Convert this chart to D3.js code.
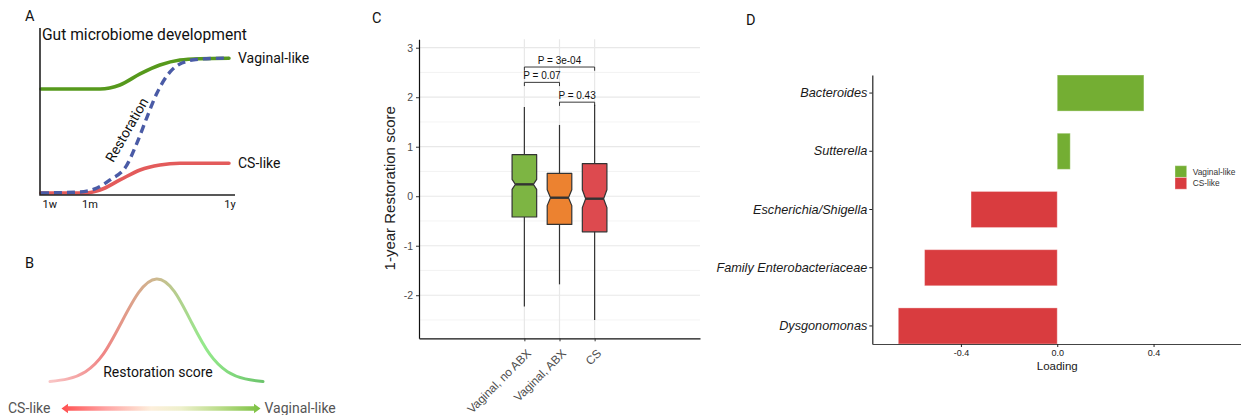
<!DOCTYPE html>
<html>
<head>
<meta charset="utf-8">
<script src="https://cdn.jsdelivr.net/npm/d3@7"></script>
<style>
  body { margin: 0; background: #fff; }
  svg { display: block; }
</style>
</head>
<body>
<svg id="fig" width="1241" height="415"></svg>
<script>
// ---------------- Panel A: schematic trajectories (time %, maturity %) ----------------
const timeTickLabels = ["1w", "1m", "1y"];
const timeTickValues = [5, 25.6, 97.4];
const vaginalTrajectory = [[0.5, 63.5], [30.8, 63.5], [41, 65.9], [51.3, 72.5], [61.5, 77.8], [71.8, 80.8], [82.1, 81.6], [96.9, 81.9]];
const csTrajectory = [[0.5, 1.2], [23.1, 1.2], [30.8, 3.0], [41, 9.0], [51.3, 15.0], [61.5, 18.0], [71.8, 19.0], [96.9, 19.0]];
const restorationTrajectory = [[0.5, 1.2], [20.5, 1.8], [29.2, 4.2], [35.9, 9.0], [44.6, 18.0], [49.7, 31.1], [54.9, 46.7], [60.0, 61.1], [66.7, 73.7], [72.8, 79.0], [82.1, 81.4], [96.9, 82.0]];

// ---------------- Panel B: restoration score distribution ----------------
const scoreGrid    = [-3, -2.5, -2, -1.5, -1, -0.5, 0, 0.5, 1, 1.5, 2, 2.5, 3];
const scoreDensity = [0.005, 0.03, 0.1, 0.27, 0.57, 0.87, 1, 0.88, 0.57, 0.27, 0.1, 0.03, 0.005];

// ---------------- Panel C: 1-year restoration score by delivery group ----------------
const groups       = ["Vaginal, no ABX", "Vaginal, ABX", "CS"];
const whiskerLow   = [-2.23, -1.78, -2.5];
const quartile1    = [-0.42, -0.57, -0.72];
const medians      = [0.24, -0.03, -0.05];
const quartile3    = [0.84, 0.46, 0.66];
const whiskerHigh  = [1.8, 1.44, 1.85];
const notchLow     = [0.14, -0.19, -0.23];
const notchHigh    = [0.34, 0.13, 0.13];
const groupColors  = ["#7db543", "#ec8230", "#dd4a4f"];
const scoreTicks   = [-2, -1, 0, 1, 2, 3];
const pairLabels   = ["P = 0.07", "P = 0.43", "P = 3e-04"];
const pairStart    = [0, 1, 0];
const pairEnd      = [1, 2, 2];
const pairLevel    = [2.30, 1.90, 2.61];

// ---------------- Panel D: taxon loadings ----------------
const taxa        = ["Bacteroides", "Sutterella", "Escherichia/Shigella", "Family Enterobacteriaceae", "Dysgonomonas"];
const loadings    = [0.36, 0.054, -0.358, -0.551, -0.66];
const taxonGroup  = ["Vaginal-like", "Vaginal-like", "CS-like", "CS-like", "CS-like"];
const legendKeys  = ["Vaginal-like", "CS-like"];
const legendFills = ["#74ae33", "#d93c3f"];
const loadingTicks = [-0.4, 0, 0.4];

const svg = d3.select("#fig");
svg.append("rect").attr("width", 1241).attr("height", 415).attr("fill", "#fff");
const defs = svg.append("defs");

const ROBOTO = "Roboto, 'Noto Sans', sans-serif";
const HELV = "'Liberation Sans', Arial, sans-serif";

// Panel letters
[["A", 25, 21], ["B", 25, 268], ["C", 372, 23], ["D", 746, 25]].forEach(([t, x, y]) => {
  svg.append("text").attr("x", x).attr("y", y).text(t)
    .attr("font-family", ROBOTO).attr("font-size", 14.5).attr("fill", "#111");
});

// ======================= Panel A =======================
{
  const g = svg.append("g");
  const xA = d3.scaleLinear([0, 100], [40, 235]);
  const yA = d3.scaleLinear([0, 100], [195, 28]);

  g.append("text").attr("x", 42).attr("y", 39.5).text("Gut microbiome development")
    .attr("font-family", ROBOTO).attr("font-size", 15.6).attr("fill", "#111");

  const line = d3.line().x(d => xA(d[0])).y(d => yA(d[1])).curve(d3.curveMonotoneX);

  g.append("path").attr("d", line(vaginalTrajectory)).attr("fill", "none")
    .attr("stroke", "#56991c").attr("stroke-width", 3.6).attr("stroke-linecap", "round");
  g.append("path").attr("d", line(csTrajectory)).attr("fill", "none")
    .attr("stroke", "#e35b5b").attr("stroke-width", 3.6).attr("stroke-linecap", "round");
  g.append("path").attr("d", line(restorationTrajectory)).attr("fill", "none")
    .attr("stroke", "#4a5ba6").attr("stroke-width", 3.4).attr("stroke-dasharray", "8,5");

  // axes
  g.append("path").attr("d", `M${xA(0)},${yA(100)}V${yA(0)}H${xA(100)}`)
    .attr("fill", "none").attr("stroke", "#222").attr("stroke-width", 1.6);
  timeTickLabels.forEach((t, i) => {
    g.append("text").attr("x", xA(timeTickValues[i])).attr("y", 208).text(t)
      .attr("text-anchor", "middle").attr("font-family", ROBOTO).attr("font-size", 11).attr("fill", "#111");
  });

  const endV = vaginalTrajectory[vaginalTrajectory.length - 1];
  const endC = csTrajectory[csTrajectory.length - 1];
  g.append("text").attr("x", xA(endV[0]) + 9).attr("y", yA(endV[1])).attr("dy", "0.35em")
    .text("Vaginal-like").attr("font-family", ROBOTO).attr("font-size", 14).attr("fill", "#111");
  g.append("text").attr("x", xA(endC[0]) + 9).attr("y", yA(endC[1])).attr("dy", "0.35em")
    .text("CS-like").attr("font-family", ROBOTO).attr("font-size", 14).attr("fill", "#111");

  g.append("text").attr("transform", `translate(${xA(44.5)},${yA(39)}) rotate(-60)`)
    .attr("text-anchor", "middle").attr("dy", "0.35em").text("Restoration")
    .attr("font-family", ROBOTO).attr("font-size", 14).attr("fill", "#111");
}

// ======================= Panel B =======================
{
  const g = svg.append("g");
  const xB = d3.scaleLinear([-3, 3], [50, 263]);
  const yB = d3.scaleLinear([0, 1], [382, 279]);

  const curveGrad = defs.append("linearGradient").attr("id", "bellGrad")
    .attr("gradientUnits", "userSpaceOnUse").attr("x1", xB(-3)).attr("x2", xB(3)).attr("y1", 0).attr("y2", 0);
  [[0, "#f9c6c6"], [0.25, "#f08585"], [0.5, "#cdb98f"], [0.72, "#95ea8c"], [1, "#6cc46c"]]
    .forEach(([o, c]) => curveGrad.append("stop").attr("offset", o).attr("stop-color", c));

  const pts = scoreGrid.map((s, i) => [s, scoreDensity[i]]);
  g.append("path")
    .attr("d", d3.line().x(d => xB(d[0])).y(d => yB(d[1])).curve(d3.curveNatural)(pts))
    .attr("fill", "none").attr("stroke", "url(#bellGrad)").attr("stroke-width", 3).attr("stroke-linecap", "round");

  g.append("text").attr("x", 158).attr("y", 377).text("Restoration score")
    .attr("text-anchor", "middle").attr("font-family", ROBOTO).attr("font-size", 14).attr("fill", "#111");

  // double-headed gradient arrow
  const arrowGrad = defs.append("linearGradient").attr("id", "arrowGrad")
    .attr("gradientUnits", "userSpaceOnUse").attr("x1", 62).attr("x2", 260).attr("y1", 0).attr("y2", 0);
  [[0, "#ff4f4f"], [0.22, "#ffa3a3"], [0.45, "#fdefdc"], [0.6, "#eef0cc"], [0.8, "#b9dc88"], [1, "#7cc142"]]
    .forEach(([o, c]) => arrowGrad.append("stop").attr("offset", o).attr("stop-color", c));
  const ay = 408.5, x0 = 61.5, x1 = 260.5, hl = 6.5, hh = 4.8, sh = 2.2;
  g.append("path")
    .attr("d", `M${x0},${ay} L${x0 + hl},${ay - hh} L${x0 + hl},${ay - sh} L${x1 - hl},${ay - sh} L${x1 - hl},${ay - hh} L${x1},${ay} L${x1 - hl},${ay + hh} L${x1 - hl},${ay + sh} L${x0 + hl},${ay + sh} L${x0 + hl},${ay + hh} Z`)
    .attr("fill", "url(#arrowGrad)");

  g.append("text").attr("x", 8).attr("y", 413).text("CS-like")
    .attr("font-family", ROBOTO).attr("font-size", 14).attr("fill", "#555");
  g.append("text").attr("x", 264.5).attr("y", 413).text("Vaginal-like")
    .attr("font-family", ROBOTO).attr("font-size", 14).attr("fill", "#555");
}

// ======================= Panel C =======================
{
  const g = svg.append("g");
  const left = 419, right = 700, top = 39.3, bottom = 338.3;
  const yC = d3.scaleLinear([-2.87, 3.17], [bottom, top]);
  const xC = d3.scalePoint(groups, [left, right]).padding(3);
  const step = xC.step();

  // grid
  d3.range(-2.5, 3.01, 1).forEach(v => {
    g.append("line").attr("x1", left).attr("x2", right).attr("y1", yC(v)).attr("y2", yC(v))
      .attr("stroke", "#f0f0f0").attr("stroke-width", 0.8);
  });
  scoreTicks.forEach(v => {
    g.append("line").attr("x1", left).attr("x2", right).attr("y1", yC(v)).attr("y2", yC(v))
      .attr("stroke", "#e8e8e8").attr("stroke-width", 1.2);
  });
  groups.forEach(gr => {
    g.append("line").attr("x1", xC(gr)).attr("x2", xC(gr)).attr("y1", top).attr("y2", bottom)
      .attr("stroke", "#e8e8e8").attr("stroke-width", 1.2);
  });

  // boxes
  const hw = step * 0.35, inset = hw * 0.27;
  groups.forEach((gr, i) => {
    const cx = xC(gr), l = cx - hw, r = cx + hw;
    g.append("line").attr("x1", cx).attr("x2", cx).attr("y1", yC(whiskerLow[i])).attr("y2", yC(whiskerHigh[i]))
      .attr("stroke", "#333").attr("stroke-width", 1.2);
    const d = `M${l},${yC(quartile3[i])} L${r},${yC(quartile3[i])} L${r},${yC(notchHigh[i])} L${r - inset},${yC(medians[i])} L${r},${yC(notchLow[i])} L${r},${yC(quartile1[i])} L${l},${yC(quartile1[i])} L${l},${yC(notchLow[i])} L${l + inset},${yC(medians[i])} L${l},${yC(notchHigh[i])} Z`;
    g.append("path").attr("d", d).attr("fill", groupColors[i]).attr("stroke", "#333").attr("stroke-width", 1.2)
      .attr("stroke-linejoin", "round");
    g.append("line").attr("x1", l + inset).attr("x2", r - inset).attr("y1", yC(medians[i])).attr("y2", yC(medians[i]))
      .attr("stroke", "#333").attr("stroke-width", 2.4);
  });

  // significance brackets
  pairLabels.forEach((lab, i) => {
    const xa = xC(groups[pairStart[i]]), xb = xC(groups[pairEnd[i]]);
    const yl = yC(pairLevel[i]), yleg = yC(pairLevel[i] - 0.075);
    g.append("path").attr("d", `M${xa},${yleg}V${yl}H${xb}V${yleg}`)
      .attr("fill", "none").attr("stroke", "#222").attr("stroke-width", 0.9);
    g.append("text").attr("x", (xa + xb) / 2).attr("y", yl - 3).text(lab)
      .attr("text-anchor", "middle").attr("font-family", HELV).attr("font-size", 10).attr("fill", "#111");
  });

  // axes
  const ay = g.append("g").attr("transform", `translate(${left},0)`)
    .call(d3.axisLeft(yC).tickValues(scoreTicks).tickFormat(d => String(d)).tickSize(3).tickSizeOuter(0).tickPadding(3));
  ay.select(".domain").attr("stroke", "#111").attr("stroke-width", 1.2);
  ay.selectAll(".tick line").attr("stroke", "#333");
  ay.selectAll(".tick text").attr("font-family", HELV).attr("font-size", 10.5).attr("fill", "#4d4d4d");

  const ax = g.append("g").attr("transform", `translate(0,${bottom})`)
    .call(d3.axisBottom(xC).tickSize(3).tickSizeOuter(0).tickFormat(() => ""));
  ax.select(".domain").attr("stroke", "#111").attr("stroke-width", 1.2);
  ax.selectAll(".tick line").attr("stroke", "#333");
  groups.forEach(gr => {
    g.append("text").attr("transform", `translate(${xC(gr) + 1.5},${bottom + 10}) rotate(-45)`)
      .attr("text-anchor", "end").attr("dy", "0.71em").text(gr)
      .attr("font-family", HELV).attr("font-size", 11.8).attr("fill", "#4d4d4d");
  });

  g.append("text").attr("transform", `translate(395,${(top + bottom) / 2 - 0.5}) rotate(-90)`)
    .attr("text-anchor", "middle").text("1-year Restoration score")
    .attr("font-family", HELV).attr("font-size", 15).attr("fill", "#222");
}

// ======================= Panel D =======================
{
  const g = svg.append("g");
  const left = 872.3, top = 75, bottom = 344;
  const xD = d3.scaleLinear([-0.768, 0.768], [left, left + 1.536 * 240.8]);
  const yD = d3.scaleBand(taxa, [top, bottom]).paddingInner(0.38).paddingOuter(0);
  const fillOf = grp => legendFills[legendKeys.indexOf(grp)];

  taxa.forEach((t, i) => {
    const v = loadings[i];
    g.append("rect").attr("x", xD(Math.min(0, v))).attr("y", yD(t))
      .attr("width", Math.abs(xD(v) - xD(0))).attr("height", yD.bandwidth())
      .attr("fill", fillOf(taxonGroup[i])).attr("stroke", "#fff").attr("stroke-opacity", 0.35).attr("stroke-width", 1);
  });

  const ay = g.append("g").attr("transform", `translate(${left},0)`)
    .call(d3.axisLeft(yD).tickSize(3).tickSizeOuter(0).tickPadding(2));
  ay.select(".domain").attr("stroke", "#222").attr("stroke-width", 1.2);
  ay.selectAll(".tick line").attr("stroke", "#222");
  ay.selectAll(".tick text").attr("font-family", HELV).attr("font-size", 12.7).attr("font-style", "italic").attr("fill", "#1a1a1a");

  const ax = g.append("g").attr("transform", `translate(0,${bottom})`)
    .call(d3.axisBottom(xD).tickValues(loadingTicks).tickFormat(d => d.toFixed(1)).tickSize(3).tickSizeOuter(0).tickPadding(3));
  ax.select(".domain").attr("stroke", "#444").attr("stroke-width", 1.2);
  ax.selectAll(".tick line").attr("stroke", "#222");
  ax.selectAll(".tick text").attr("font-family", HELV).attr("font-size", 9).attr("fill", "#1a1a1a");

  g.append("text").attr("x", xD(0)).attr("y", 370).text("Loading")
    .attr("text-anchor", "middle").attr("font-family", HELV).attr("font-size", 11.5).attr("fill", "#1a1a1a");

  // legend
  legendKeys.forEach((k, i) => {
    const ly = 165.7 + i * 11.8;
    g.append("rect").attr("x", 1175).attr("y", ly).attr("width", 11.7).attr("height", 11.7)
      .attr("fill", legendFills[i]).attr("stroke", "#fff").attr("stroke-opacity", 0.35);
    g.append("text").attr("x", 1192.7).attr("y", ly + 5.9).attr("dy", "0.35em").text(k)
      .attr("font-family", HELV).attr("font-size", 8.4).attr("fill", "#333");
  });
}
</script>
</body>
</html>
